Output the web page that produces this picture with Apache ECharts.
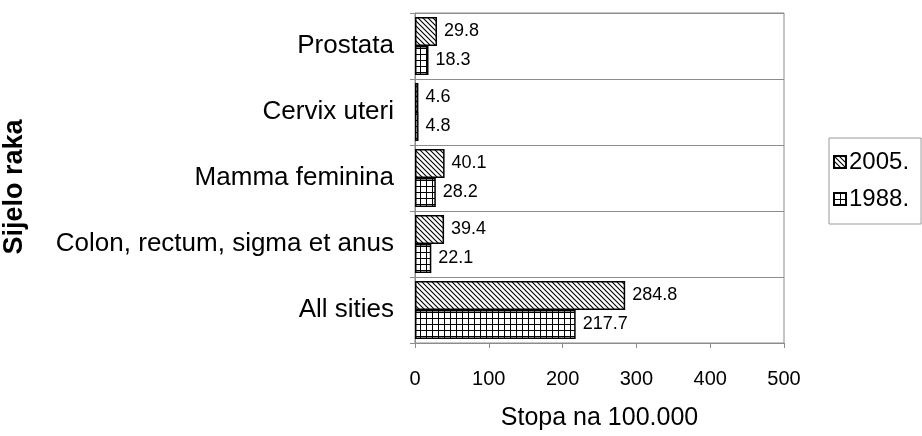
<!DOCTYPE html>
<html>
<head>
<meta charset="utf-8">
<script src="https://cdn.jsdelivr.net/npm/echarts@6/dist/echarts.min.js"></script>
<style>
  html, body { margin: 0; padding: 0; background: #fff; }
  #chart { width: 922px; height: 436px; }
</style>
</head>
<body>
<div id="chart"></div>
<script>
// data, top to bottom as in the picture
const categories = ['Prostata', 'Cervix uteri', 'Mamma feminina', 'Colon, rectum, sigma et anus', 'All sities']
const values2005 = [29.8, 4.6, 40.1, 39.4, 284.8]
const values1988 = [18.3, 4.8, 28.2, 22.1, 217.7]
const xTicks = [0, 100, 200, 300, 400, 500]

const FONT = '"Liberation Sans", Arial, sans-serif'

// hatched fill for 2005
const makeHatch = () => {
  const c = document.createElement('canvas')
  c.width = 5
  c.height = 5
  const ctx = c.getContext('2d')
  ctx.fillStyle = '#fff'
  ctx.fillRect(0, 0, 5, 5)
  ctx.strokeStyle = '#000'
  ctx.lineWidth = 1.1
  ctx.beginPath()
  ctx.moveTo(-1, -1); ctx.lineTo(6, 6)
  ctx.moveTo(-1, 4); ctx.lineTo(1, 6)
  ctx.moveTo(4, -1); ctx.lineTo(6, 1)
  ctx.stroke()
  return c
}

// grid fill for 1988
const makeGrid = () => {
  const c = document.createElement('canvas')
  c.width = 6
  c.height = 6
  const ctx = c.getContext('2d')
  ctx.fillStyle = '#fff'
  ctx.fillRect(0, 0, 6, 6)
  ctx.fillStyle = '#000'
  ctx.fillRect(0, 0, 6, 1)
  ctx.fillRect(0, 0, 1, 6)
  return c
}

const hatch = { image: makeHatch(), repeat: 'repeat' }
const grid = { image: makeGrid(), repeat: 'repeat' }

const myChart = echarts.init(document.getElementById('chart'), null, { renderer: 'canvas' })

const labelStyle = {
  show: true,
  position: 'right',
  distance: 7,
  color: '#000',
  fontSize: 18,
  fontFamily: FONT
}

myChart.setOption({
  animation: false,
  textStyle: { fontFamily: FONT },
  legend: {
    data: ['2005.', '1988.'],
    orient: 'vertical',
    left: 829,
    top: 138,
    icon: 'rect',
    padding: [12, 12, 13, 4],
    itemGap: 13,
    itemWidth: 12,
    itemHeight: 12,
    borderColor: '#999',
    borderWidth: 1,
    textStyle: { fontSize: 24, color: '#000', fontFamily: FONT, padding: [0, 0, 0, -2] }
  },
  grid: {
    left: 413,
    right: 138,
    top: 13,
    bottom: 87,
    show: true,
    borderColor: '#8c8c8c',
    borderWidth: 1
  },
  xAxis: {
    type: 'value',
    min: 0,
    max: 500,
    interval: 100,
    name: 'Stopa na 100.000',
    nameLocation: 'middle',
    nameGap: 63,
    nameTextStyle: { fontSize: 25, color: '#000', fontFamily: FONT },
    axisLine: { show: true, lineStyle: { color: '#8c8c8c' } },
    axisTick: { show: true, length: 5, lineStyle: { color: '#8c8c8c' } },
    axisLabel: {
      margin: 26,
      fontSize: 20,
      color: '#000',
      fontFamily: FONT,
      formatter: (v) => (xTicks.includes(v) ? String(v) : '')
    },
    splitLine: { show: false }
  },
  yAxis: {
    type: 'category',
    inverse: true,
    data: categories,
    name: 'Sijelo raka',
    nameLocation: 'middle',
    nameRotate: 90,
    nameGap: 387,
    nameTextStyle: { fontSize: 27, fontWeight: 'bold', color: '#000', fontFamily: FONT, padding: [0, 18, 0, 0] },
    axisLine: { show: true, lineStyle: { color: '#8c8c8c' } },
    axisTick: { show: true, length: 5, lineStyle: { color: '#8c8c8c' } },
    axisLabel: { margin: 21, fontSize: 26, color: '#000', fontFamily: FONT },
    splitLine: { show: true, lineStyle: { color: '#8c8c8c' } }
  },
  series: [
    {
      name: '2005.',
      type: 'bar',
      data: values2005,
      barWidth: 29,
      barGap: '0%',
      itemStyle: { color: hatch, borderColor: '#000', borderWidth: 1.5 },
      label: labelStyle
    },
    {
      name: '1988.',
      type: 'bar',
      data: values1988,
      barWidth: 29,
      barGap: '0%',
      itemStyle: { color: grid, borderColor: '#000', borderWidth: 1.5 },
      label: labelStyle
    }
  ]
})

window.addEventListener('resize', myChart.resize)
</script>
</body>
</html>
